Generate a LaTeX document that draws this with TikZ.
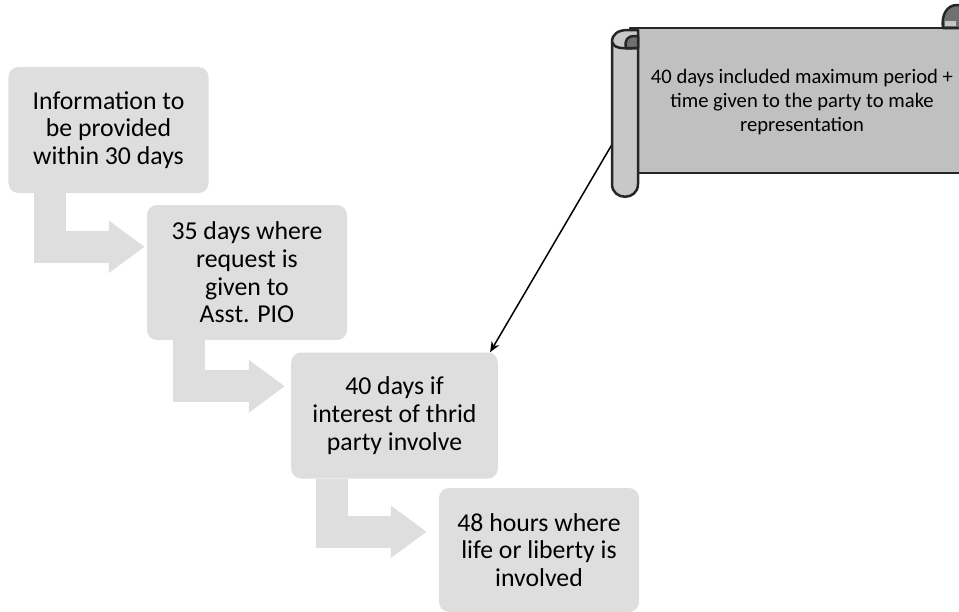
\documentclass[tikz,border=0pt]{standalone}
\usepackage{fontspec}
\setmainfont{Carlito}
\usetikzlibrary{arrows.meta,calc}
\definecolor{boxgray}{RGB}{222,222,222}
\definecolor{scrollgray}{RGB}{192,192,192}
\definecolor{rollgray}{RGB}{200,200,200}
\definecolor{curlgray}{RGB}{112,112,112}

\begin{document}
\begin{tikzpicture}[x=0.3mm,y=-0.3mm,
  stage/.style={fill=boxgray,rounded corners=3mm,minimum width=60mm,minimum height=37.8mm,align=center,font=\fontsize{22}{23.6}\selectfont},
  bent/.style={draw=boxgray,line width=9.6mm,-{Triangle[length=10.8mm,width=15mm]}},
  edge/.style={draw=black!85,line width=0.75mm,line join=round},
  ptr/.style={-{Stealth[length=3.2mm,width=2.6mm]},line width=0.45mm}]
\clip (0,0) rectangle (959,611);
% the four stages
\node[stage] (b1) at (108.5,130) {Information to\\be provided\\within 30 days};
\node[stage,minimum height=40.5mm] (b2) at (247,272.5) {35 days where\\request is\\given to\\Asst. PIO};
\node[stage,minimum width=62mm] (b3) at (394.5,415.5) {40 days if\\interest of thrid\\party involve};
\node[stage,minimum height=37.2mm] (b4) at (539,550) {48 hours where\\life or liberty is\\involved};
% bent arrows between them
\draw[bent] ($(b1.south west)+(42,0)$) |- ($(b2.north west)+(-2,42)$);
\draw[bent] ($(b2.south west)+(42,0)$) |- ($(b3.north west)+(-6,34)$);
\draw[bent] ($(b3.south west)+(41,0)$) |- ($(b4.north west)+(-12,44)$);
% pointer from the scroll
\coordinate (scroll) at (614,141);
\draw[ptr] (scroll) -- ($(b3.north east)+(-8,0)$);
% scroll
\filldraw[edge,fill=scrollgray] (630,28) -- (975,28) -- (975,173) -- (630,173) -- cycle;
\filldraw[edge,fill=curlgray] (943,28) .. controls (941,15) and (947,5) .. (957,5) -- (970,5) -- (970,28) -- cycle;
\fill[gray!45] (945,21) rectangle (956,26);
\filldraw[edge,fill=rollgray] (612,184) -- (612,42) .. controls (612,34) and (618,30) .. (628,30) -- (638,30) -- (638,184)
  .. controls (638,201) and (612,201) .. (612,184) -- cycle;
\filldraw[edge,fill=curlgray] (626,48) .. controls (624,40) and (628,36) .. (634,36) -- (638,36) -- (638,48) -- cycle;
\draw[edge] (612,42) .. controls (614,48) and (620,49) .. (638,48);
\node[align=center,font=\fontsize{17.6}{20.8}\selectfont] (note) at (802,102)
  {40 days included maximum period +\\time given to the party to make\\representation};
\end{tikzpicture}
\end{document}
